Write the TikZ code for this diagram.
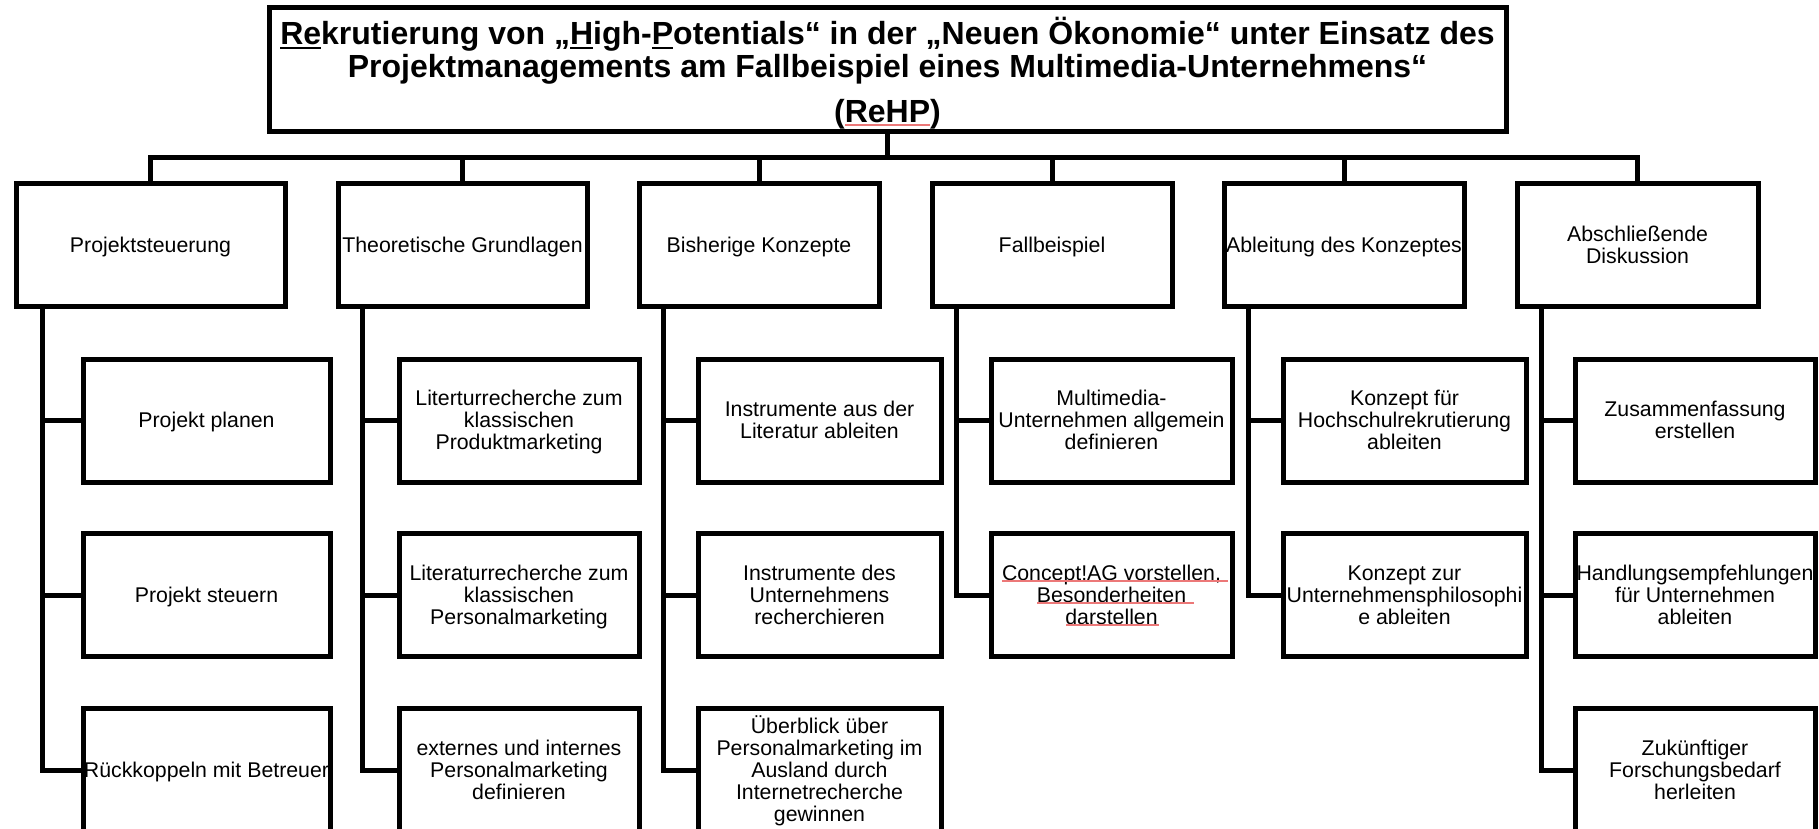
\documentclass[tikz,border=0pt]{standalone}
\usepackage{fontspec}
\setmainfont{Liberation Sans}
\definecolor{spellred}{RGB}{236,120,120}
\newcommand\myul[1]{\setbox0=\hbox{#1}\rlap{\rule[-4.8pt]{\wd0}{2.6pt}}\box0}
\newcommand\topstrut{\rule{0pt}{0.905em}}
\newcommand\botstrut{\rule[-0.212em]{0pt}{0.212em}}
% centred lines in a vbox whose baseline is the last line
\newcommand\ml[1]{{\def\\{\cr}\vbox{\halign{\hfil##\hfil\cr\topstrut#1\botstrut\crcr}}}}
\begin{document}
\begin{tikzpicture}[x=1pt,y=-1pt,
  every node/.style={inner sep=0pt, outer sep=0pt},
  box/.style={draw, line width=5pt, rectangle, font=\fontsize{21.3}{22}\selectfont},
  topbox/.style={box, minimum height=122pt},
  subbox/.style={box, minimum height=123pt},
  titlebox/.style={draw, line width=5pt, rectangle, minimum width=1237pt, minimum height=124pt},
  titletext/.style={font=\fontsize{32}{34}\selectfont\bfseries, anchor=base},
  conn/.style={line width=5pt},
  spell/.style={line width=1.3pt, draw=spellred}]
\useasboundingbox (0,0) rectangle (1819,829);

% title
\node[titlebox] (title) at (887.5,70) {};
\node[titletext] (tl1) at (887.5,44.5) {\myul{Re}krutierung von „\myul{H}igh-\myul{P}otentials“ in der „Neuen Ökonomie“ unter Einsatz des};
\node[titletext] (tl2) at (887.5,77.5) {Projektmanagements am Fallbeispiel eines Multimedia-Unternehmens“};
\node[titletext] (tl3) at (887.5,122.5) {(ReHP)};

% top level
\node[topbox, minimum width=269pt] (b1) at (150.5,245) {\ml{Projektsteuerung}};
\node[topbox, minimum width=249pt] (b2) at (462.5,245) {\ml{Theoretische Grundlagen}};
\node[topbox, minimum width=240pt] (b3) at (759,245) {\ml{Bisherige Konzepte}};
\node[topbox, minimum width=240pt] (b4) at (1052,245) {\ml{Fallbeispiel}};
\node[topbox, minimum width=240pt] (b5) at (1344,245) {\ml{Ableitung des Konzeptes}};
\node[topbox, minimum width=241pt] (b6) at (1637.5,245) {\ml{Abschließende\\Diskussion}};

% column 1
\node[subbox, minimum width=247pt] (s11) at (206.5,420.5) {\ml{Projekt planen}};
\node[subbox, minimum width=247pt] (s12) at (206.5,595) {\ml{Projekt steuern}};
\node[subbox, minimum width=247pt] (s13) at (206.5,770) {\ml{Rückkoppeln mit Betreuer}};
% column 2
\node[subbox, minimum width=240pt] (s21) at (519,420.5) {\ml{Literturrecherche zum\\klassischen\\Produktmarketing}};
\node[subbox, minimum width=240pt] (s22) at (519,595) {\ml{Literaturrecherche zum\\klassischen\\Personalmarketing}};
\node[subbox, minimum width=240pt] (s23) at (519,770) {\ml{externes und internes\\Personalmarketing\\definieren}};
% column 3
\node[subbox, minimum width=243pt] (s31) at (819.5,420.5) {\ml{Instrumente aus der\\Literatur ableiten}};
\node[subbox, minimum width=243pt] (s32) at (819.5,595) {\ml{Instrumente des\\Unternehmens\\recherchieren}};
\node[subbox, minimum width=243pt] (s33) at (819.5,770) {\ml{Überblick über\\Personalmarketing im\\Ausland durch\\Internetrecherche\\gewinnen}};
% column 4
\node[subbox, minimum width=241pt] (s41) at (1111.5,420.5) {\ml{Multimedia-\\Unternehmen allgemein\\definieren}};
\node[subbox, minimum width=241pt] (s42) at (1111.5,595) {\ml{Concept!AG vorstellen,\\Besonderheiten\\darstellen}};
% column 5
\node[subbox, minimum width=243pt] (s51) at (1404.5,420.5) {\ml{Konzept für\\Hochschulrekrutierung\\ableiten}};
\node[subbox, minimum width=243pt] (s52) at (1404.5,595) {\ml{Konzept zur\\Unternehmensphilosophi\\e ableiten}};
% column 6
\node[subbox, minimum width=240pt] (s61) at (1695,420.5) {\ml{Zusammenfassung\\erstellen}};
\node[subbox, minimum width=240pt] (s62) at (1695,595) {\ml{Handlungsempfehlungen\\für Unternehmen\\ableiten}};
\node[subbox, minimum width=240pt] (s63) at (1695,770) {\ml{Zukünftiger\\Forschungsbedarf\\herleiten}};

% connectors from title
\coordinate (j) at (887.5,158);
\draw[conn] (title.south) -- (j);
\draw[conn] (b1.north) |- (j) -| (b6.north);
\foreach \b in {b2,b3,b4,b5} {\draw[conn] (\b.north) -- (\b.north |- j);}

% trunks
\path (b1.south west) ++(26,0) coordinate (tr1);
\path (b2.south west) ++(24,0) coordinate (tr2);
\path (b3.south west) ++(24,0) coordinate (tr3);
\path (b4.south west) ++(24,0) coordinate (tr4);
\path (b5.south west) ++(24,0) coordinate (tr5);
\path (b6.south west) ++(24,0) coordinate (tr6);

\draw[conn] (tr1) |- (s13.west);
\draw[conn] (s11.west) -- (s11.west -| tr1);
\draw[conn] (s12.west) -- (s12.west -| tr1);
\draw[conn] (tr2) |- (s23.west);
\draw[conn] (s21.west) -- (s21.west -| tr2);
\draw[conn] (s22.west) -- (s22.west -| tr2);
\draw[conn] (tr3) |- (s33.west);
\draw[conn] (s31.west) -- (s31.west -| tr3);
\draw[conn] (s32.west) -- (s32.west -| tr3);
\draw[conn] (tr4) |- (s42.west);
\draw[conn] (s41.west) -- (s41.west -| tr4);
\draw[conn] (tr5) |- (s52.west);
\draw[conn] (s51.west) -- (s51.west -| tr5);
\draw[conn] (tr6) |- (s63.west);
\draw[conn] (s61.west) -- (s61.west -| tr6);
\draw[conn] (s62.west) -- (s62.west -| tr6);

% spell-check underlines
\draw[spell] (845,125) -- (930,125);
\draw[spell] (1002,581) -- (1228,581);
\draw[spell] (1037,603) -- (1194,603);
\draw[spell] (1066,625) -- (1159,625);
\end{tikzpicture}
\end{document}
